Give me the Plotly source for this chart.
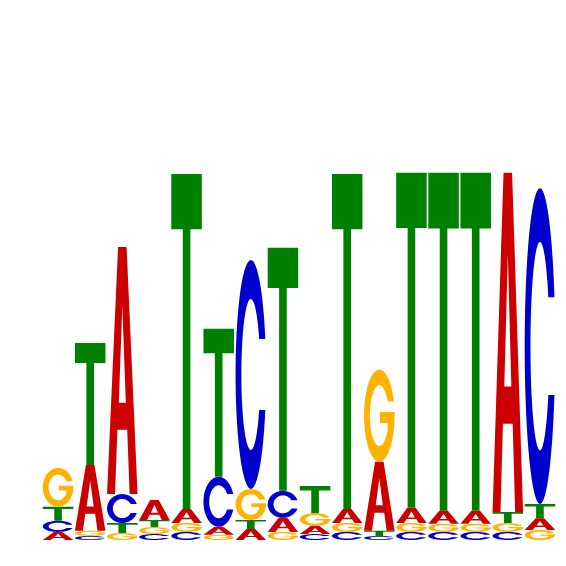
import numpy as np
import plotly.graph_objects as go

# sequence logo, 16 positions, letter heights in bits
positions = list(range(1, 17))
# letters from bottom to top at each position
stack_order = ["ACTG", "CGAT", "GTCA", "CGTA", "CGAT", "GACT", "ATGC", "GACT",
               "CAGT", "CGAT", "CTAG", "CGAT", "CGAT", "CGAT", "CGTA", "GATC"]
A = [0.030, 0.244, 0.915, 0.074, 0.052, 0.030, 0.041, 0.052,
     0.030, 0.052, 0.256, 0.056, 0.048, 0.048, 1.256, 0.044]
C = [0.041, 0.015, 0.107, 0.022, 0.030, 0.185, 0.848, 0.100,
     0.022, 0.030, 0.015, 0.030, 0.030, 0.030, 0.030, 1.170]
G = [0.144, 0.019, 0.026, 0.026, 0.033, 0.019, 0.115, 0.030,
     0.048, 0.033, 0.341, 0.033, 0.030, 0.030, 0.033, 0.037]
T = [0.052, 0.452, 0.037, 0.026, 1.241, 0.548, 0.033, 0.900,
     0.100, 1.241, 0.019, 1.241, 1.252, 1.252, 0.041, 0.052]

heights = {"A": A, "C": C, "G": G, "T": T}
colors = {"A": "#CC0000", "C": "#0000CC", "G": "#FFB300", "T": "#008000"}


# glyph outlines in a unit box (0..1 x 0..1)
def arc(rx, ry, t0, t1, n=60):
    t = np.linspace(t0, t1, n)
    return list(zip(0.5 + rx * np.cos(t), 0.5 + ry * np.sin(t)))

RXO, RYO = 0.5, 0.5
RXI, RYI = 0.31, 0.33
CUT = 0.155
a_o = np.arcsin(CUT / RYO)
a_i = np.arcsin(CUT / RYI)


def glyph(letter):
    if letter == "T":
        return [[(0, 1), (1, 1), (1, 0.835), (0.625, 0.835), (0.625, 0),
                 (0.375, 0), (0.375, 0.835), (0, 0.835)]]
    if letter == "A":
        outer = [(0, 0), (0.36, 1), (0.64, 1), (1, 0), (0.74, 0),
                 (0.66, 0.26), (0.34, 0.26), (0.26, 0)]
        hole = [(0.385, 0.37), (0.615, 0.37), (0.5, 0.76)]
        return [outer, hole]
    if letter == "C":
        pts = arc(RXO, RYO, a_o, 2 * np.pi - a_o) + arc(RXI, RYI, 2 * np.pi - a_i, a_i)
        return [pts]
    # G
    xs = 0.77
    phi = -np.arccos((xs - 0.5) / RXI)
    pts = arc(RXO, RYO, a_o, 2 * np.pi)
    pts += [(1.0, 0.54), (0.52, 0.54), (0.52, 0.42), (xs, 0.42)]
    pts += arc(RXI, RYI, phi, a_i - 2 * np.pi)
    return [pts]


def to_path(subpaths, x0, w, y0, h):
    s = ""
    for sp in subpaths:
        s += "M " + " L ".join(f"{x0 + u * w:.4f},{y0 + v * h:.5f}" for u, v in sp) + " Z "
    return s.strip()


width = 0.95
shapes = []
for i, pos in enumerate(positions):
    base = 0.0
    for letter in stack_order[i]:
        h = heights[letter][i]
        shapes.append(dict(
            type="path", xref="x", yref="y",
            path=to_path(glyph(letter), pos - width / 2, width, base, h),
            fillcolor=colors[letter], fillrule="evenodd",
            line=dict(width=0),
        ))
        base += h

fig = go.Figure()
fig.update_layout(
    width=566, height=566,
    margin=dict(l=34, r=18, t=0, b=34),
    paper_bgcolor="white", plot_bgcolor="white",
    shapes=shapes,
    showlegend=False,
)
fig.update_xaxes(range=[0.5, 16.5], visible=False, showgrid=False, zeroline=False)
fig.update_yaxes(range=[0, 532 / 270], visible=False, showgrid=False, zeroline=False)

fig.write_html("out.html")
